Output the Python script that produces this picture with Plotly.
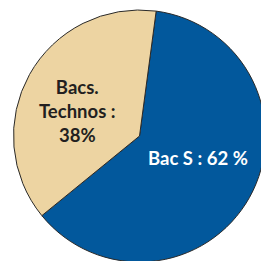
import plotly.graph_objects as go

labels = ["Bac S", "Bacs. Technos"]
values = [62, 38]
label_texts = ["Bac S : 62 %", "Bacs.<br>Technos :<br>38%"]
colors = ["#02589C", "#EDD4A2"]
text_colors = ["#FFFFFF", "#231F20"]

W, H = 270, 270
cx, cy, r = 139.5, 136, 126

fig = go.Figure(go.Pie(
    labels=labels, values=values, sort=False, direction="clockwise",
    rotation=7.6, textinfo="none", hoverinfo="label+percent",
    marker=dict(colors=colors, line=dict(color="#2a2a2a", width=1)),
    domain=dict(x=[(cx - r) / W, (cx + r) / W], y=[1 - (cy + r) / H, 1 - (cy - r) / H]),
    showlegend=False,
))

pos = [(197.5, 157.5), (77.5, 111)]
for t, c, (px, py) in zip(label_texts, text_colors, pos):
    fig.add_annotation(text=f"<b>{t}</b>", x=px / W, y=1 - py / H, xref="paper", yref="paper",
                       xanchor="center", yanchor="middle",
                       showarrow=False, font=dict(family="Lato", size=18.5, color=c), align="center")

fig.update_layout(width=W, height=H, margin=dict(l=0, r=0, t=0, b=0),
                  paper_bgcolor="white", plot_bgcolor="white")
fig.write_html("out.html", config={"displayModeBar": False},
               post_script="document.body.style.margin='0';document.body.style.overflow='hidden';document.documentElement.style.overflow='hidden';")
